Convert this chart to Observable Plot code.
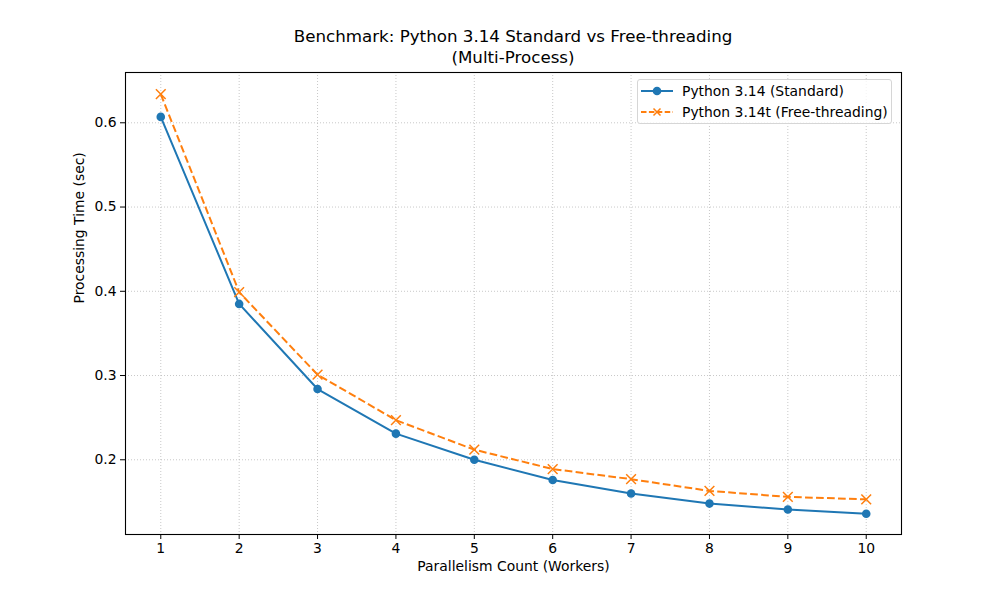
<!DOCTYPE html>
<html>
<head>
<meta charset="utf-8">
<script src="https://cdn.jsdelivr.net/npm/d3@7"></script>
<script src="https://cdn.jsdelivr.net/npm/@observablehq/plot@0.6"></script>
<style>
  body { margin: 0; background: #fff; }
  #wrap { position: relative; width: 1000px; height: 600px; font-family: "DejaVu Sans", sans-serif; color: #000; }
  #title { position: absolute; left: 125px; width: 776px; top: 26px; text-align: center; font-size: 16.7px; line-height: 21px; }
  #legend { position: absolute; left: 637px; top: 79px; width: 255px; height: 45px; border: 1px solid #d6d6d6; border-radius: 3px; background: rgba(255,255,255,0.8); box-sizing: border-box; font-size: 13.9px; }
  .row { position: absolute; left: 0; height: 20px; display: flex; align-items: center; }
  .row svg { margin-left: 2px; }
  .row span { margin-left: 8px; white-space: nowrap; }
</style>
</head>
<body>
<div id="wrap">
  <div id="chart"></div>
  <div id="title">Benchmark: Python 3.14 Standard vs Free-threading<br>(Multi-Process)</div>
  <div id="legend"></div>
</div>
<script>
const workers = [1, 2, 3, 4, 5, 6, 7, 8, 9, 10];
const standard = [0.607, 0.385, 0.284, 0.231, 0.200, 0.176, 0.160, 0.148, 0.141, 0.136];
const freeThreading = [0.634, 0.399, 0.301, 0.247, 0.212, 0.189, 0.177, 0.163, 0.156, 0.153];
const seriesNames = ["Python 3.14 (Standard)", "Python 3.14t (Free-threading)"];
const yTicks = [0.2, 0.3, 0.4, 0.5, 0.6];
const xLabel = "Parallelism Count (Workers)";
const yLabel = "Processing Time (sec)";

const blue = "#1f77b4", orange = "#ff7f0e";
const stdData = workers.map((w, i) => ({w, v: standard[i]}));
const ftData = workers.map((w, i) => ({w, v: freeThreading[i]}));

const chart = Plot.plot({
  width: 1000,
  height: 600,
  marginTop: 72,
  marginBottom: 66,
  marginLeft: 125,
  marginRight: 99,
  style: {fontFamily: "DejaVu Sans, sans-serif", fontSize: "13.9px", color: "#000", background: "#fff"},
  x: {domain: [0.55, 10.45], ticks: workers, tickFormat: d => String(d)},
  y: {domain: [0.1113, 0.6597], ticks: yTicks, tickFormat: d3.format(".1f")},
  marks: [
    Plot.gridX(workers, {stroke: "#b0b0b0", strokeOpacity: 0.7, strokeWidth: 1, strokeDasharray: "1,2"}),
    Plot.gridY(yTicks, {stroke: "#b0b0b0", strokeOpacity: 0.7, strokeWidth: 1, strokeDasharray: "1,2"}),
    Plot.axisX(workers, {tickSize: 5, tickPadding: 4, label: null, fontSize: "13.9px"}),
    Plot.axisY(yTicks, {tickSize: 5, tickPadding: 4, label: null, fontSize: "13.9px", tickFormat: d3.format(".1f")}),
    Plot.lineY(stdData, {x: "w", y: "v", stroke: blue, strokeWidth: 2}),
    Plot.dot(stdData, {x: "w", y: "v", fill: blue, r: 4.3, stroke: null}),
    Plot.lineY(ftData, {x: "w", y: "v", stroke: orange, strokeWidth: 2, strokeDasharray: "7.7,3.3", strokeLinecap: "butt"}),
    Plot.dot(ftData, {x: "w", y: "v", symbol: "times", stroke: orange, strokeWidth: 1.5, r: 4.5}),
    Plot.frame({stroke: "#000", strokeWidth: 1.1}),
    Plot.text([xLabel], {frameAnchor: "bottom", dy: 36, fontSize: "13.9px", fill: "#000"}),
    Plot.text([yLabel], {frameAnchor: "left", dx: -46, rotate: -90, fontSize: "13.9px", fill: "#000"})
  ]
});
document.getElementById("chart").appendChild(chart);

// Legend
const legend = document.getElementById("legend");
const samples = [
  {name: seriesNames[0], color: blue, dash: null, marker: "dot"},
  {name: seriesNames[1], color: orange, dash: "5.5,2.4", marker: "x"}
];
samples.forEach((s, i) => {
  const row = document.createElement("div");
  row.className = "row";
  row.style.top = (1 + i * 21) + "px";
  const m = s.marker === "dot"
    ? `<circle cx="17" cy="10" r="4.3" fill="${s.color}"/>`
    : `<path d="M13.5,6.5L20.5,13.5M20.5,6.5L13.5,13.5" stroke="${s.color}" stroke-width="1.5"/>`;
  row.innerHTML = `<svg width="34" height="20"><line x1="1" y1="10" x2="33" y2="10" stroke="${s.color}" stroke-width="2" ${s.dash ? `stroke-dasharray="${s.dash}"` : ""}/>${m}</svg><span>${s.name}</span>`;
  legend.appendChild(row);
});
</script>
</body>
</html>
